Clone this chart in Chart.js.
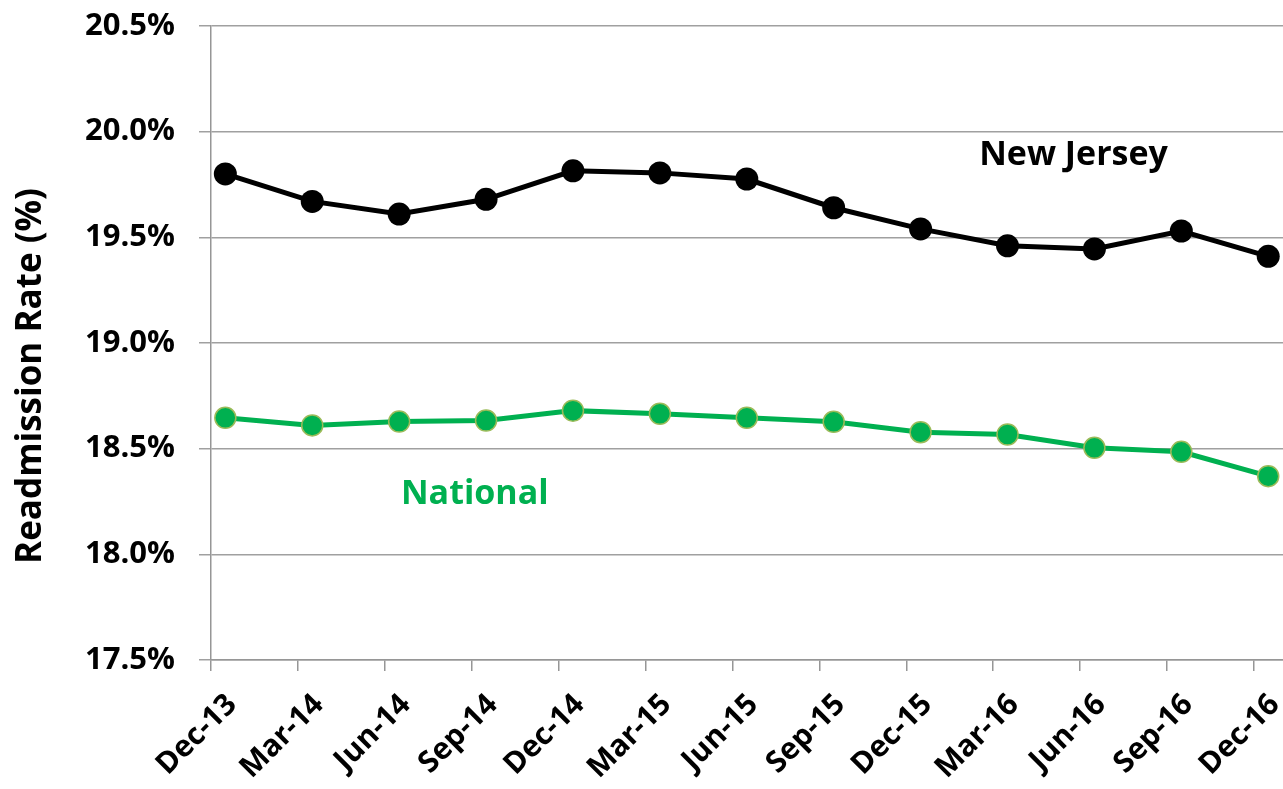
<!DOCTYPE html>
<html>
<head>
<meta charset="utf-8">
<script src="https://cdn.jsdelivr.net/npm/chart.js@4/dist/chart.umd.min.js"></script>
<style>
html,body{margin:0;padding:0;background:#fff;}
#wrap{width:1283px;height:789px;position:relative;}
</style>
</head>
<body>
<div id="wrap"><canvas id="c"></canvas></div>
<script>
const categories = ["Dec-13","Mar-14","Jun-14","Sep-14","Dec-14","Mar-15","Jun-15","Sep-15","Dec-15","Mar-16","Jun-16","Sep-16","Dec-16"];
const newJersey = [19.80, 19.67, 19.61, 19.68, 19.815, 19.805, 19.776, 19.64, 19.54, 19.46, 19.445, 19.53, 19.41];
const national = [18.646, 18.61, 18.628, 18.633, 18.68, 18.665, 18.646, 18.627, 18.578, 18.567, 18.504, 18.485, 18.37];
const yTicks = [17.5, 18.0, 18.5, 19.0, 19.5, 20.0, 20.5];

const FONT = "'Open Sans', sans-serif";
const X_MIN = -0.165, X_MAX = 12.17;

const toPts = arr => arr.map((v, i) => ({x: i, y: v}));

const labelPlugin = {
  id: 'labels',
  afterDraw(chart) {
    const ctx = chart.ctx;
    const xs = chart.scales.x, ys = chart.scales.y;
    ctx.save();
    ctx.font = "bold 34px " + FONT;
    ctx.textBaseline = 'alphabetic';
    ctx.textAlign = 'center';
    ctx.fillStyle = '#000000';
    ctx.fillText('New Jersey', xs.getPixelForValue(9.76), ys.getPixelForValue(19.84));
    ctx.fillStyle = '#00B050';
    ctx.fillText('National', xs.getPixelForValue(2.87), ys.getPixelForValue(18.24));
    ctx.translate(31, 376);
    ctx.rotate(-Math.PI / 2);
    ctx.font = "bold 35px " + FONT;
    ctx.fillStyle = '#000000';
    ctx.textBaseline = 'middle';
    ctx.fillText('Readmission Rate (%)', 0, 0);
    ctx.restore();
  }
};

function zeroPad(scale) {
  scale.paddingLeft = 0; scale.paddingRight = 0;
  scale.paddingTop = 0; scale.paddingBottom = 0;
}

new Chart(document.getElementById('c'), {
  type: 'line',
  data: {
    datasets: [
      {
        label: 'New Jersey',
        data: toPts(newJersey),
        borderColor: '#000000',
        backgroundColor: '#000000',
        borderWidth: 5,
        pointRadius: 11.5,
        pointBorderWidth: 0,
        pointBackgroundColor: '#000000',
        tension: 0,
        clip: false
      },
      {
        label: 'National',
        data: toPts(national),
        borderColor: '#00B050',
        backgroundColor: '#00B050',
        borderWidth: 5,
        pointRadius: 10.5,
        pointBorderWidth: 1.5,
        pointBorderColor: '#9BBB59',
        pointBackgroundColor: '#00B050',
        tension: 0,
        clip: false
      }
    ]
  },
  options: {
    responsive: true,
    maintainAspectRatio: false,
    animation: false,
    events: [],
    layout: {autoPadding: false, padding: {top: 26, right: 0, left: 0, bottom: 0}},
    plugins: {legend: {display: false}, tooltip: {enabled: false}},
    scales: {
      x: {
        type: 'linear',
        min: X_MIN,
        max: X_MAX,
        afterBuildTicks(scale) {
          scale.ticks = categories.map((_, i) => ({value: X_MIN + i}));
        },
        afterFit(scale) { scale.height = 129; zeroPad(scale); },
        grid: {drawOnChartArea: false, color: '#969696', lineWidth: 1.5, tickLength: 11},
        border: {color: '#969696', width: 1.5},
        ticks: {
          autoSkip: false,
          maxRotation: 45,
          minRotation: 45,
          labelOffset: 21,
          padding: 16,
          color: '#000000',
          font: {family: FONT, size: 30, weight: 'bold'},
          callback(value, index) { return categories[index]; }
        }
      },
      y: {
        min: 17.5,
        max: 20.5,
        afterBuildTicks(scale) {
          scale.ticks = yTicks.map(v => ({value: v}));
        },
        afterFit(scale) { scale.width = 211; zeroPad(scale); },
        grid: {color: '#A0A0A0', lineWidth: 1.5, tickLength: 12},
        border: {color: '#969696', width: 1.5},
        ticks: {
          padding: 24,
          color: '#000000',
          font: {family: FONT, size: 31, weight: 'bold'},
          callback(value) { return value.toFixed(1) + '%'; }
        }
      }
    }
  },
  plugins: [labelPlugin]
});
</script>
</body>
</html>
